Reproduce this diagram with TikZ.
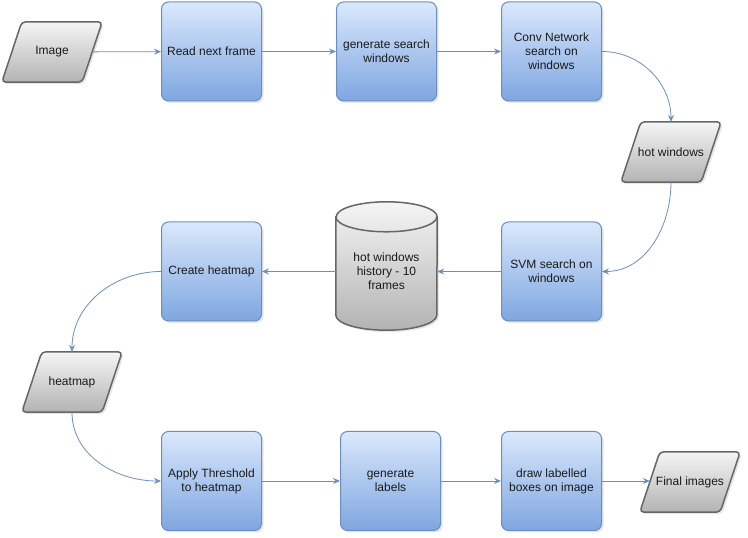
\documentclass[tikz,border=0pt]{standalone}
\usepackage{fontspec}
\setmainfont{Liberation Sans}
\usetikzlibrary{shadows,arrows.meta,backgrounds}
\definecolor{bluetop}{HTML}{DAE8FC}
\definecolor{bluebot}{HTML}{7EA6E0}
\definecolor{blueline}{HTML}{6C8EBF}
\definecolor{graytop}{HTML}{F5F5F5}
\definecolor{graybot}{HTML}{B3B3B3}
\definecolor{grayline}{HTML}{666666}
\definecolor{txt}{HTML}{1A1A1A}
\tikzset{
  x=1pt,y=1pt,
  every node/.style={font=\fontsize{12}{14}\selectfont, text=txt, align=center},
  myshadow/.style={drop shadow={shadow xshift=2pt, shadow yshift=-2pt, opacity=0.2}},
  procbox/.style={rectangle, rounded corners=7pt, draw=blueline, line width=1pt,
    top color=bluetop, bottom color=bluebot, minimum width=100pt, minimum height=99pt,
    inner sep=2pt, myshadow},
  databox/.style={rectangle, minimum width=80pt, minimum height=60pt, inner sep=1pt},
  databack/.style={rounded corners=4pt, draw=grayline, line width=1.5pt,
    top color=graytop, bottom color=graybot, myshadow},
  storebox/.style={rectangle, minimum width=101pt, minimum height=128pt, inner sep=0pt},
  storeback/.style={draw=grayline, line width=1.5pt, top color=graytop, bottom color=graybot, myshadow},
  storetop/.style={draw=grayline, line width=1.5pt},
  flow/.style={draw=blueline, line width=0.8pt, -{Stealth[length=7pt,width=6pt,inset=2.5pt]}},
}
\newcommand\drawpara[1]{%
  \path[databack] ([xshift=-10pt]#1.south west) -- ([xshift=10pt]#1.north west)
    -- ([xshift=10pt]#1.north east) -- ([xshift=-10pt]#1.south east) -- cycle;}
\begin{document}
\begin{tikzpicture}
\useasboundingbox (0,0) rectangle (748,538);
\node[databox] (img) at (52,486) {Image};
\node[procbox] (read) at (211.5,486.5) {Read next frame};
\node[procbox] (gen) at (386.5,486.5) {generate search\\windows};
\node[procbox] (conv) at (551.5,486.5) {Conv Network\\search on\\windows};
\node[databox] (hot) at (671,386) {hot windows};
\node[procbox] (svm) at (551.5,266.5) {SVM search on\\windows};
\node[storebox, label={[yshift=-5pt]center:{hot windows\\history - 10\\frames}}] (hist) at (386.5,272) {};
\node[procbox] (create) at (211.5,266.5) {Create heatmap};
\node[databox] (heat) at (72,156) {heatmap};
\node[procbox] (apply) at (211.5,57) {Apply Threshold\\to heatmap};
\node[procbox] (labels) at (390.5,57) {generate\\labels};
\node[procbox] (drawb) at (551.5,57) {draw labelled\\boxes on image};
\node[databox] (final) at (690,56) {Final images};

\begin{pgfonlayer}{background}
  \drawpara{img}
  \drawpara{hot}
  \drawpara{heat}
  \drawpara{final}
  \path[storeback] ([yshift=-15pt]hist.north west) -- ([yshift=15pt]hist.south west)
    arc[start angle=180, end angle=360, x radius=50.5pt, y radius=15pt]
    -- ([yshift=-15pt]hist.north east)
    arc[start angle=0, end angle=180, x radius=50.5pt, y radius=15pt] -- cycle;
  \draw[storetop] ([yshift=-15pt]hist.north west)
    arc[start angle=180, end angle=360, x radius=50.5pt, y radius=15pt];
\end{pgfonlayer}

\draw[flow] (img) -- (read);
\draw[flow] (read) -- (gen);
\draw[flow] (gen) -- (conv);
\draw[flow] (conv.east) to[out=0,in=90] (hot.north);
\draw[flow] (hot.south) to[out=270,in=0] (svm.east);
\draw[flow] (svm.west) -- (svm.west -| hist.east);
\draw[flow] (hist.west |- create.east) -- (create.east);
\draw[flow] (create.west) to[out=180,in=90] (heat.north);
\draw[flow] (heat.south) to[out=270,in=180] (apply.west);
\draw[flow] (apply) -- (labels);
\draw[flow] (labels) -- (drawb);
\draw[flow] (drawb.east) -- (final.west |- drawb.east);
\end{tikzpicture}
\end{document}
